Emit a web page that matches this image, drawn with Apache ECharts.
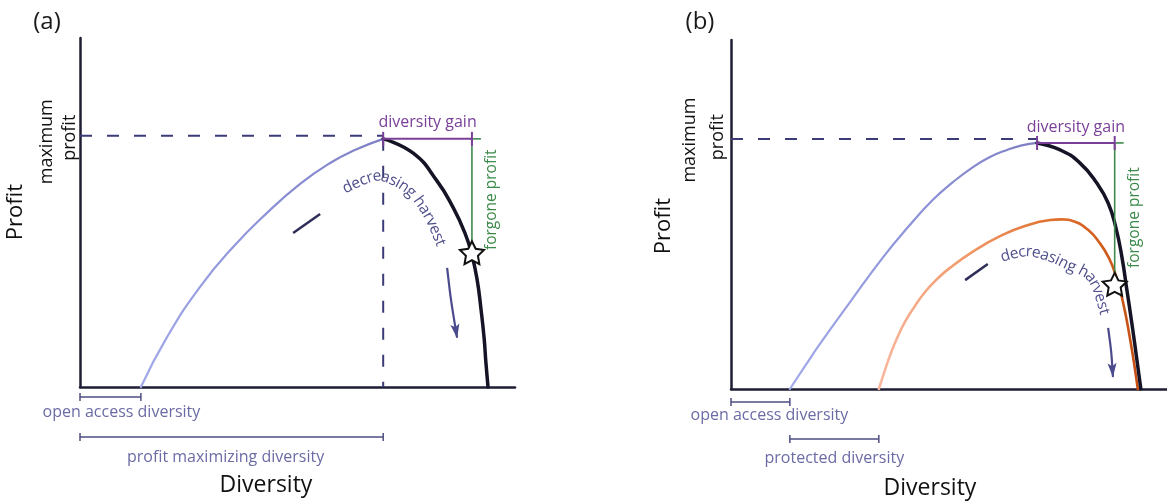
<!DOCTYPE html>
<html>
<head>
<meta charset="utf-8">
<script src="https://cdn.jsdelivr.net/npm/echarts@6/dist/echarts.min.js"></script>
<style>
  html, body { margin: 0; padding: 0; background: #fff; }
  #c { width: 1167px; height: 503px; }
</style>
</head>
<body>
<div id="c"></div>
<script>
// Profit against diversity, in arbitrary units (diversity 0-10, profit 0-10).

// Panel (a): open access / profit maximising
const blueA  = [[1.40,0],[2.00,1.43],[2.76,2.87],[3.52,4.01],[4.30,4.99],[5.06,5.82],[5.75,6.42],[6.32,6.79],[6.97,7.11]];
const blackA = [[6.97,7.11],[7.66,6.70],[8.21,5.90],[8.57,5.16],[8.85,4.41],[9.01,3.78],[9.13,3.07],[9.22,2.21],[9.29,1.40],[9.33,0.72],[9.38,0]];
const maxProfitA = 7.2;
const starA = [9.01, 3.85];

// Panel (b): with protected diversity
const blueB   = [[1.35,0],[1.70,0.66],[2.04,1.29],[2.73,2.49],[3.49,3.78],[4.06,4.64],[4.63,5.42],[5.09,5.93],[5.55,6.36],[5.94,6.65],[6.33,6.85],[6.67,6.98],[7.02,7.05]];
const blackB  = [[7.02,7.05],[7.55,6.85],[8.00,6.48],[8.39,5.90],[8.65,5.33],[8.83,4.61],[8.97,3.75],[9.08,2.84],[9.20,1.83],[9.31,0.83],[9.40,0]];
const orangeB = [[3.39,0],[3.52,0.50],[3.65,0.97],[3.81,1.46],[3.99,1.92],[4.22,2.38],[4.45,2.78],[4.72,3.14],[5.02,3.47],[5.60,3.98],[6.17,4.38],[6.74,4.67],[7.32,4.84],[7.59,4.86],[7.89,4.79],[8.19,4.56],[8.46,4.18],[8.67,3.75],[8.83,3.24],[8.99,2.49],[9.13,1.60],[9.24,0.77],[9.33,0]];
const maxProfitB = 7.16;
const starB = [8.80, 3.0];

// Guide curves for the "decreasing harvest" arrows (diversity, profit)
const harvestTailA = [[4.90,4.41],[5.52,4.96]];
const harvestTextA = [[6.02,5.64],[6.74,6.02],[7.17,5.93],[7.63,5.56],[8.02,4.87],[8.32,4.01]];
const harvestHeadA = [[8.44,3.41],[8.53,2.49],[8.67,1.40]];
const harvestTailB = [[5.37,3.12],[5.89,3.58]];
const harvestTextB = [[6.22,3.78],[6.79,3.93],[7.32,3.78],[7.78,3.52],[8.17,3.30],[8.39,2.89],[8.56,2.18]];
const harvestHeadB = [[8.65,1.75],[8.72,1.06],[8.76,0.34]];

const FONT = '"Open Sans", "Noto Sans", sans-serif';
const AXIS = '#1d1d33';
const DASH = '#3b3b78';
const PURPLE = '#7a3f98';
const GREEN = '#3d8a4c';
const SLATE = '#4f4f8c';
const LAV = '#6b6ba5';

function starPath() {
  let d = '';
  for (let i = 0; i < 10; i++) {
    const r = i % 2 ? 0.5 : 1;
    const a = -Math.PI / 2 + i * Math.PI / 5;
    d += (i ? 'L' : 'M') + (50 + 50 * r * Math.cos(a)).toFixed(2) + ' ' + (50 + 50 * r * Math.sin(a)).toFixed(2) + ' ';
  }
  return 'path://' + d + 'Z';
}

function axis(gi) {
  return {
    gridIndex: gi, type: 'value', min: 0, max: 10,
    axisLine: { show: true, onZero: false, lineStyle: { color: AXIS, width: 2.5 } },
    axisTick: { show: false }, axisLabel: { show: false }, splitLine: { show: false }
  };
}
function grad(stops) {
  return { type: 'linear', x: 0, y: 0, x2: 1, y2: 0, colorStops: stops.map((c, i) => ({ offset: i / (stops.length - 1), color: c })) };
}
function curve(gi, data, color, width) {
  return { type: 'line', xAxisIndex: gi, yAxisIndex: gi, data, smooth: 0.5,
           symbol: 'none', silent: true, z: 2, lineStyle: { color, width, cap: 'round', join: 'round' } };
}
function dashed(gi, data) {
  return { type: 'line', xAxisIndex: gi, yAxisIndex: gi, data, symbol: 'none', silent: true, z: 1,
           lineStyle: { color: DASH, width: 2, type: [12, 15] } };
}
function star(gi, p) {
  return { type: 'scatter', xAxisIndex: gi, yAxisIndex: gi, data: [p], symbol: starPath(), symbolSize: 24,
           symbolKeepAspect: true, silent: true, z: 20,
           itemStyle: { color: '#ffffff', borderColor: '#111111', borderWidth: 2, opacity: 1 } };
}

const peakA = blueA[blueA.length - 1];
const peakB = blueB[blueB.length - 1];

const chart = echarts.init(document.getElementById('c'), null, { renderer: 'canvas' });
chart.setOption({
  animation: false,
  backgroundColor: '#ffffff',
  grid: [
    { left: 80, top: 38, width: 435, height: 349 },
    { left: 731, top: 40, width: 436, height: 349 }
  ],
  xAxis: [axis(0), axis(1)],
  yAxis: [axis(0), axis(1)],
  series: [
    dashed(0, [[0, maxProfitA], [peakA[0], maxProfitA]]),
    dashed(0, [[peakA[0], peakA[1]], [peakA[0], 0]]),
    curve(0, blueA, grad(['#a3aaea', '#8c92d8', '#7e7fc2']), 2.2),
    curve(0, blackA, '#141426', 3.5),
    star(0, starA),

    dashed(1, [[0, maxProfitB], [peakB[0], maxProfitB]]),
    curve(1, blueB, grad(['#a3aaea', '#8c92d8', '#7e7fc2']), 2.2),
    curve(1, orangeB, grad(['#f8b8a0', '#f09a6a', '#e0702e', '#c54e12']), 2.6),
    curve(1, blackB, '#141426', 3.5),
    star(1, starB)
  ]
});

// ---- annotations ----
const els = [];
const P = [p => chart.convertToPixel({ gridIndex: 0 }, p), p => chart.convertToPixel({ gridIndex: 1 }, p)];
const mctx = document.createElement('canvas').getContext('2d');

function line(points, color, width, z) {
  els.push({ type: 'polyline', z: z || 5, silent: true, shape: { points },
             style: { stroke: color, lineWidth: width, fill: null, lineCap: 'butt', lineJoin: 'round' } });
}
function txt(s, x, y, size, color, rot) {
  els.push({ type: 'text', x, y, rotation: rot || 0, z: 30, silent: true,
             style: { text: s, fill: color, font: size + 'px ' + FONT, align: 'center', verticalAlign: 'middle' } });
}
function catmull(pts, seg) {
  if (pts.length < 3) return pts.slice();
  const out = [];
  for (let i = 0; i < pts.length - 1; i++) {
    const p0 = pts[Math.max(i - 1, 0)], p1 = pts[i], p2 = pts[i + 1], p3 = pts[Math.min(i + 2, pts.length - 1)];
    for (let k = 0; k < seg; k++) {
      const t = k / seg, t2 = t * t, t3 = t2 * t;
      out.push([0, 1].map(j => 0.5 * (2 * p1[j] + (-p0[j] + p2[j]) * t +
        (2 * p0[j] - 5 * p1[j] + 4 * p2[j] - p3[j]) * t2 + (-p0[j] + 3 * p1[j] - 3 * p2[j] + p3[j]) * t3)));
    }
  }
  out.push(pts[pts.length - 1]);
  return out;
}
function pointAt(poly, cum, s) {
  let i = 1;
  while (i < poly.length - 1 && cum[i] < s) i++;
  const a = poly[i - 1], b = poly[i];
  const segLen = cum[i] - cum[i - 1] || 1;
  const t = (s - cum[i - 1]) / segLen;
  return { x: a[0] + (b[0] - a[0]) * t, y: a[1] + (b[1] - a[1]) * t, ang: Math.atan2(b[1] - a[1], b[0] - a[0]) };
}
function textAlong(pts, str, size, color) {
  const poly = catmull(pts, 16);
  const cum = [0];
  for (let i = 1; i < poly.length; i++) cum.push(cum[i - 1] + Math.hypot(poly[i][0] - poly[i - 1][0], poly[i][1] - poly[i - 1][1]));
  const L = cum[cum.length - 1];
  mctx.font = size + 'px ' + FONT;
  const chars = [...str];
  const w = chars.map(c => mctx.measureText(c).width);
  const W = w.reduce((a, b) => a + b, 0);
  let s = (L - W) / 2;
  chars.forEach((c, i) => {
    const q = pointAt(poly, cum, s + w[i] / 2);
    if (c !== ' ') txt(c, q.x, q.y, size, color, -q.ang);
    s += w[i];
  });
}
function arrow(pts, color, width) {
  const poly = catmull(pts, 16);
  const e = poly[poly.length - 1], b = poly[poly.length - 3];
  const dx = e[0] - b[0], dy = e[1] - b[1], d = Math.hypot(dx, dy);
  const ux = dx / d, uy = dy / d, nx = -uy, ny = ux;
  const hl = 14, hw = 4.5;
  const shaft = poly.slice(0, -1).concat([[e[0] - ux * 8, e[1] - uy * 8]]);
  line(shaft, color, width);
  els.push({ type: 'polygon', z: 5, silent: true,
    shape: { points: [e, [e[0] - ux * hl + nx * hw, e[1] - uy * hl + ny * hw], [e[0] - ux * (hl - 3), e[1] - uy * (hl - 3)], [e[0] - ux * hl - nx * hw, e[1] - uy * hl - ny * hw]] },
    style: { fill: color } });
}
function gain(g, peak, st) {
  const [x1, y] = P[g]([peak[0], peak[1]]);
  const [x2] = P[g]([st[0], peak[1]]);
  const [, ys] = P[g](st);
  line([[x2, y], [x2, ys]], GREEN, 1.6, 3);
  line([[x2 - 2, y], [x2 + 9, y]], GREEN, 1.6, 3);
  line([[x1, y], [x2, y]], PURPLE, 2, 4);
  line([[x1, y - 7], [x1, y + 7]], PURPLE, 2, 4);
  line([[x2, y - 7], [x2, y + 7]], PURPLE, 2, 4);
  txt('diversity gain', (x1 + x2) / 2, y - 16, 16, PURPLE);
  txt('forgone profit', x2 + 20, (y + ys) / 2 + 4, 15.5, GREEN, Math.PI / 2);
}
function span(g, x0, x1, dy, label, ldy, ldx) {
  const [a, ay] = P[g]([x0, 0]);
  const [b] = P[g]([x1, 0]);
  const y = ay + dy;
  line([[a, y], [b, y]], '#4e4e82', 1.5);
  line([[a, y - 4], [a, y + 4]], '#4e4e82', 1.5);
  line([[b, y - 4], [b, y + 4]], '#4e4e82', 1.5);
  txt(label, (a + b) / 2 + ldx, y + ldy, 16, LAV);
}
function harvest(g, tail, text, head) {
  line(tail.map(P[g]), '#2e2e58', 2.5);
  textAlong(text.map(P[g]), 'decreasing harvest', 15.5, SLATE);
  arrow(head.map(P[g]), '#4a4a8c', 2.2);
}

gain(0, peakA, starA);
gain(1, peakB, starB);
span(0, 0, blueA[0][0], 10, 'open access diversity', 15, 11);
span(0, 0, peakA[0], 50, 'profit maximizing diversity', 20, -6);
span(1, 0, blueB[0][0], 13, 'open access diversity', 13, 9);
span(1, blueB[0][0], orangeB[0][0], 50, 'protected diversity', 19, 0);
harvest(0, harvestTailA, harvestTextA, harvestHeadA);
harvest(1, harvestTailB, harvestTextB, harvestHeadB);

// panel letters and axis titles
txt('(a)', 47, 22, 24, '#1a1a1a');
txt('(b)', 700, 22, 24, '#1a1a1a');
txt('Profit', 16, 212, 22, '#111111', Math.PI / 2);
txt('Profit', 664, 226, 22, '#111111', Math.PI / 2);
txt('Diversity', 266, 485, 23, '#111111');
txt('Diversity', 930, 488, 23, '#111111');
const mA = P[0]([0, maxProfitA]), mB = P[1]([0, maxProfitB]);
txt('maximum', mA[0] - 33, mA[1] + 6, 18, '#111111', Math.PI / 2);
txt('profit', mA[0] - 10, mA[1] + 2, 18, '#111111', Math.PI / 2);
txt('maximum', mB[0] - 41, mB[1] + 1, 18, '#111111', Math.PI / 2);
txt('profit', mB[0] - 13, mB[1] - 2, 18, '#111111', Math.PI / 2);

chart.setOption({ graphic: { elements: els } });
</script>
</body>
</html>
